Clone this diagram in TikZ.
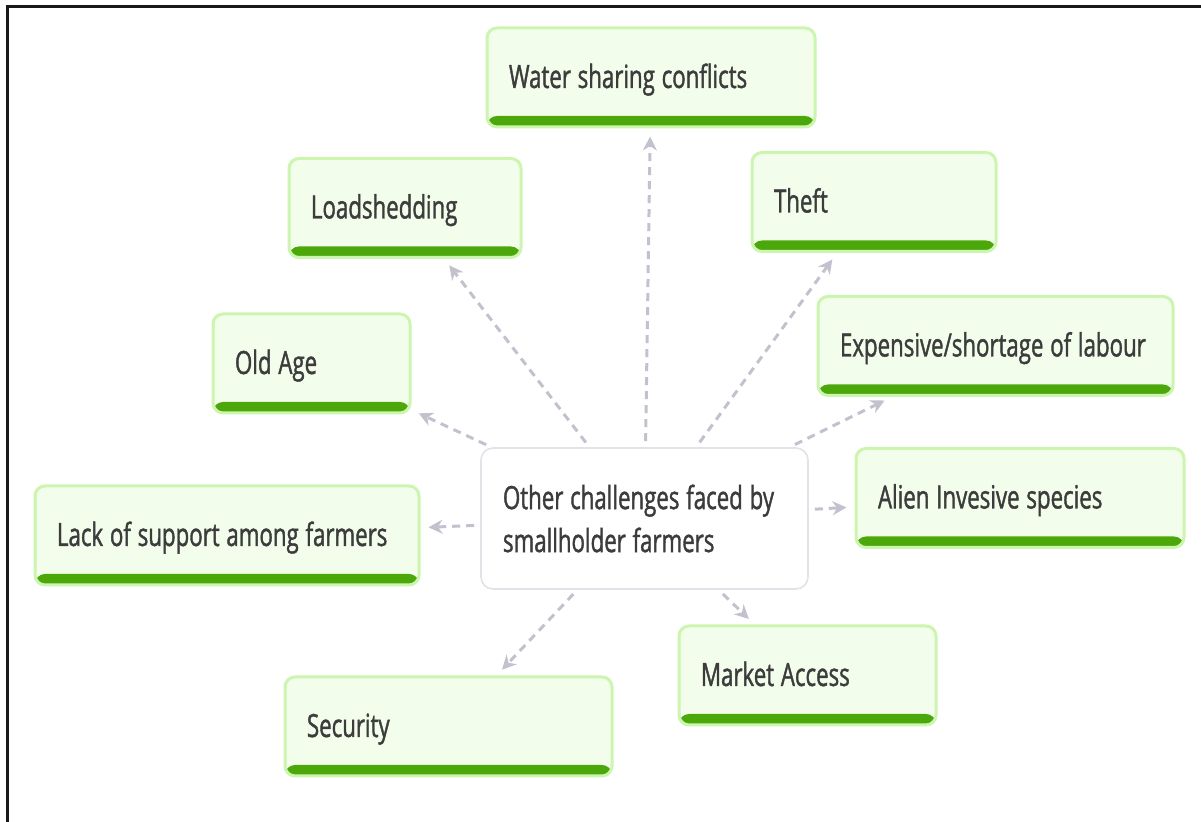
\documentclass[tikz,border=0pt]{standalone}
\usepackage{fontspec}
\setmainfont{Open Sans}[FakeStretch=0.695, FakeBold=1.2]
\usetikzlibrary{arrows.meta}
\definecolor{leafline}{HTML}{CCF5B0}
\definecolor{leaffill}{HTML}{F3FDEB}
\definecolor{leafbar}{HTML}{4CA80A}
\definecolor{hubline}{HTML}{E2E2E8}
\definecolor{linkgray}{HTML}{C2C2CE}
\definecolor{ink}{HTML}{3C3C3C}
\tikzset{challenge/.style={
  rectangle, rounded corners=5pt,
  draw=leafline, line width=1.5pt,
  fill=leaffill,
  path picture={\fill[leafbar] (path picture bounding box.south west)
    rectangle ([yshift=5.5pt]path picture bounding box.south east);},
  inner xsep=11pt, inner ysep=0pt,
  text width=#1, align=left,
  text height=12pt, text depth=1.5pt,
  minimum height=49.5pt,
  font=\fontsize{16}{19}\selectfont, text=ink,
  execute at begin node={\spaceskip=3.4pt\xspaceskip=3.4pt\hyphenpenalty=10000\relax}
}}
\tikzset{hub/.style={
  rectangle, rounded corners=6pt,
  draw=hubline, line width=0.8pt,
  fill=white,
  inner xsep=11pt,
  text width=141.5pt, align=left,
  minimum height=70.5pt,
  font=\fontsize{16}{21.5}\selectfont, text=ink,
  execute at begin node={\spaceskip=3.4pt\xspaceskip=3.4pt\hyphenpenalty=10000\relax}
}}
\tikzset{link/.style={
  draw=linkgray, line width=1.5pt,
  dash pattern=on 4pt off 3pt,
  -{Stealth[length=7pt,width=7pt]},
  shorten <=3pt, shorten >=4pt
}}

\begin{document}
\begin{tikzpicture}[x=0.5pt,y=-0.5pt]
  \useasboundingbox (0,0) rectangle (1201,822);
  \draw[line width=1.5pt, black!90] (7,822) -- (7,7) -- (1201,7);

  \node [hub] (hub) at (644.5,518.5) {Other challenges faced by\\smallholder farmers};

  \node [challenge=142pt]   (water)    at (651,77.5)    {Water sharing conflicts};
  \node [challenge=94pt]    (load)     at (405,208)     {Loadshedding};
  \node [challenge=100pt]   (theft)    at (874,202)     {Theft};
  \node [challenge=76.5pt]  (oldage)   at (311.5,363.5) {Old Age};
  \node [challenge=155.5pt] (labour)   at (995.5,346)   {Expensive/shortage of labour};
  \node [challenge=170pt]   (support)  at (227,535.5)   {Lack of support among farmers};
  \node [challenge=142pt]   (alien)    at (1020,498)    {Alien Invesive species};
  \node [challenge=106.5pt] (market)   at (807.5,675.5) {Market Access};
  \node [challenge=141.5pt] (security) at (448.5,726.5) {Security};

  \foreach \leaf in {water,load,theft,oldage,labour,support,alien,market,security}
    \draw [link] (hub) -- (\leaf);
\end{tikzpicture}
\end{document}
